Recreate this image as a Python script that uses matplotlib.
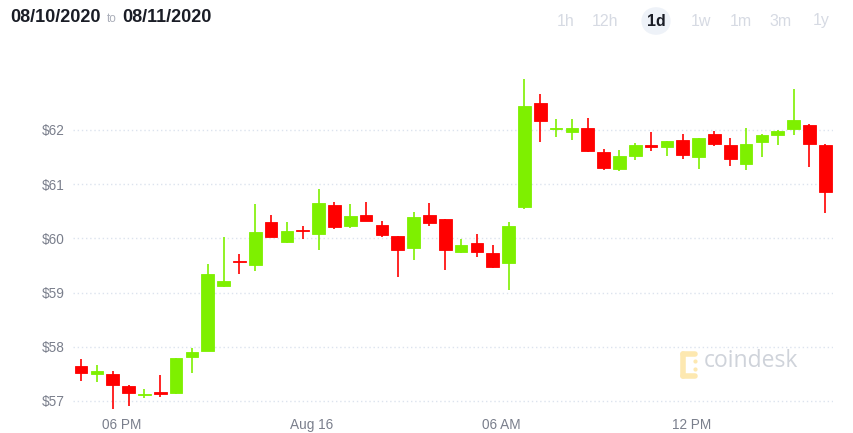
import matplotlib
matplotlib.use("Agg")
import matplotlib.pyplot as plt
import matplotlib.dates as mdates
import pandas as pd
from matplotlib.patches import FancyBboxPatch

# ---- data ----
times = pd.date_range("2020-08-15 16:43", periods=48, freq="30min")
opens = [57.65, 57.50, 57.50, 57.28, 57.11, 57.145, 57.15, 57.81, 57.93, 59.13,
         59.58, 59.50, 60.30, 59.93, 60.145, 60.09, 60.62, 60.22, 60.44, 60.24,
         60.04, 59.82, 60.43, 60.35, 59.74, 59.91, 59.73, 59.55, 60.58, 62.50,
         62.02, 61.96, 62.03, 61.59, 61.28, 61.52, 61.73, 61.68, 61.81, 61.51,
         61.92, 61.72, 61.38, 61.78, 61.90, 62.01, 62.10, 61.72]
highs = [57.77, 57.66, 57.55, 57.30, 57.23, 57.48, 57.80, 57.98, 59.53, 60.03,
         59.71, 60.63, 60.44, 60.30, 60.22, 60.91, 60.67, 60.63, 60.67, 60.33,
         60.05, 60.49, 60.65, 60.36, 59.98, 60.09, 59.87, 60.30, 62.94, 62.66,
         62.21, 62.21, 62.22, 61.65, 61.64, 61.76, 61.96, 61.79, 61.93, 61.86,
         61.99, 61.85, 62.03, 61.93, 62.00, 62.75, 62.11, 61.75]
lows = [57.37, 57.35, 56.86, 56.91, 57.06, 57.08, 57.13, 57.52, 57.92, 59.11,
        59.35, 59.39, 60.02, 59.91, 59.98, 59.79, 60.17, 60.20, 60.32, 60.03,
        59.29, 59.61, 60.22, 59.42, 59.73, 59.66, 59.45, 59.05, 60.54, 61.78,
        61.87, 61.81, 61.59, 61.27, 61.24, 61.44, 61.62, 61.52, 61.47, 61.28,
        61.70, 61.34, 61.27, 61.50, 61.73, 61.91, 61.31, 60.46]
closes = [57.51, 57.55, 57.30, 57.15, 57.13, 57.135, 57.79, 57.91, 59.34, 59.22,
          59.56, 60.11, 60.03, 60.14, 60.135, 60.65, 60.21, 60.42, 60.33, 60.07,
          59.79, 60.40, 60.29, 59.78, 59.87, 59.74, 59.48, 60.23, 62.45, 62.16,
          62.04, 62.03, 61.61, 61.30, 61.52, 61.73, 61.68, 61.79, 61.54, 61.86,
          61.74, 61.46, 61.74, 61.91, 61.98, 62.18, 61.75, 60.86]
y_ticks = [57, 58, 59, 60, 61, 62]
y_labels = ["$57", "$58", "$59", "$60", "$61", "$62"]
x_ticks = ["2020-08-15 18:00", "2020-08-16 00:00", "2020-08-16 06:00", "2020-08-16 12:00"]
x_labels = ["06 PM", "Aug 16", "06 AM", "12 PM"]
ranges = ["1h", "12h", "1d", "1w", "1m", "3m", "1y"]

GREEN = "#7ef000"
RED = "#ff0000"
GRID = "#dce3ee"
TXT = "#7a7f8c"

W, H = 854, 433
fig = plt.figure(figsize=(W / 100, H / 100), dpi=100)
ax = fig.add_axes([73 / W, (H - 412) / H, (833 - 73) / W, 347 / H])

x = mdates.date2num(times)
width = 0.4 / 24
for xi, o, h, l, c in zip(x, opens, highs, lows, closes):
    col = GREEN if c >= o else RED
    ax.vlines(xi, l, h, color=col, linewidth=1.2, zorder=3)
    bottom = min(o, c)
    height = max(abs(c - o), 0.025)
    ax.bar(xi, height, width=width, bottom=bottom, color=col,
           edgecolor=col, linewidth=0.6, zorder=4)

ax.set_xlim(mdates.date2num(pd.Timestamp("2020-08-15 16:27:40")),
            mdates.date2num(pd.Timestamp("2020-08-16 16:27:40")))
ax.set_ylim(56.797, 63.199)

ax.set_yticks(y_ticks)
ax.set_yticklabels(y_labels)
ax.set_xticks(mdates.date2num(pd.to_datetime(x_ticks)))
ax.set_xticklabels(x_labels)
ax.tick_params(axis="both", length=0, labelsize=9.8, labelcolor=TXT)
ax.tick_params(axis="y", pad=6)
ax.tick_params(axis="x", pad=4)
for lab in ax.get_xticklabels() + ax.get_yticklabels():
    lab.set_fontfamily("Liberation Sans")
ax.yaxis.grid(True, color=GRID, linestyle=(0, (1, 2)), linewidth=1.0, zorder=0)
ax.xaxis.grid(False)
for s in ax.spines.values():
    s.set_visible(False)
ax.set_axisbelow(True)

# ---- header ----
def fx(px):
    return px / W

def fy(py):
    return 1 - py / H

fig.text(fx(10), fy(18), "08/10/2020", fontsize=13, fontweight="bold",
         color="#1a1d26", va="center", ha="left", family="Liberation Sans")
fig.text(fx(107), fy(19), "to", fontsize=8.5, color="#a9adb8",
         va="center", ha="left", family="Liberation Sans")
fig.text(fx(122), fy(18), "08/11/2020", fontsize=13, fontweight="bold",
         color="#1a1d26", va="center", ha="left", family="Liberation Sans")

btn_x = [566, 605, 656, 701, 741, 781, 821]
for bx, lab in zip(btn_x, ranges):
    if lab == "1d":
        pill = FancyBboxPatch((fx(bx - 15), fy(35)), 30 / W, 28 / H,
                              boxstyle="round,pad=0,rounding_size=0.02",
                              transform=fig.transFigure, facecolor="#eef2f8",
                              edgecolor="none", mutation_aspect=W / H)
        fig.patches.append(pill)
        fig.text(fx(bx), fy(21), lab, fontsize=11.5, fontweight="bold",
                 color="#1a1d26", ha="center", va="center", family="Liberation Sans")
    else:
        fig.text(fx(bx), fy(21), lab, fontsize=11.5, color="#d6dae3",
                 ha="center", va="center", family="Liberation Sans")

# ---- watermark ----
logo = fig.add_axes([fx(678), fy(381), 22 / W, 32 / H])
logo.set_xlim(0, 22)
logo.set_ylim(32, 0)
logo.axis("off")
yel = "#fde8b0"
logo.plot([5, 5], [5, 27], color=yel, linewidth=4, solid_capstyle="round")
logo.plot([5, 17], [5, 5], color=yel, linewidth=4, solid_capstyle="round")
logo.plot([5, 17], [27, 27], color=yel, linewidth=4, solid_capstyle="round")
logo.scatter([17, 17], [12, 20], s=4, color=yel)
fig.text(fx(704), fy(361), "coindesk", fontsize=16.5, color="#cfd3da",
         ha="left", va="center", family="Open Sans")

fig.savefig("out.png", dpi=100, facecolor="white")
